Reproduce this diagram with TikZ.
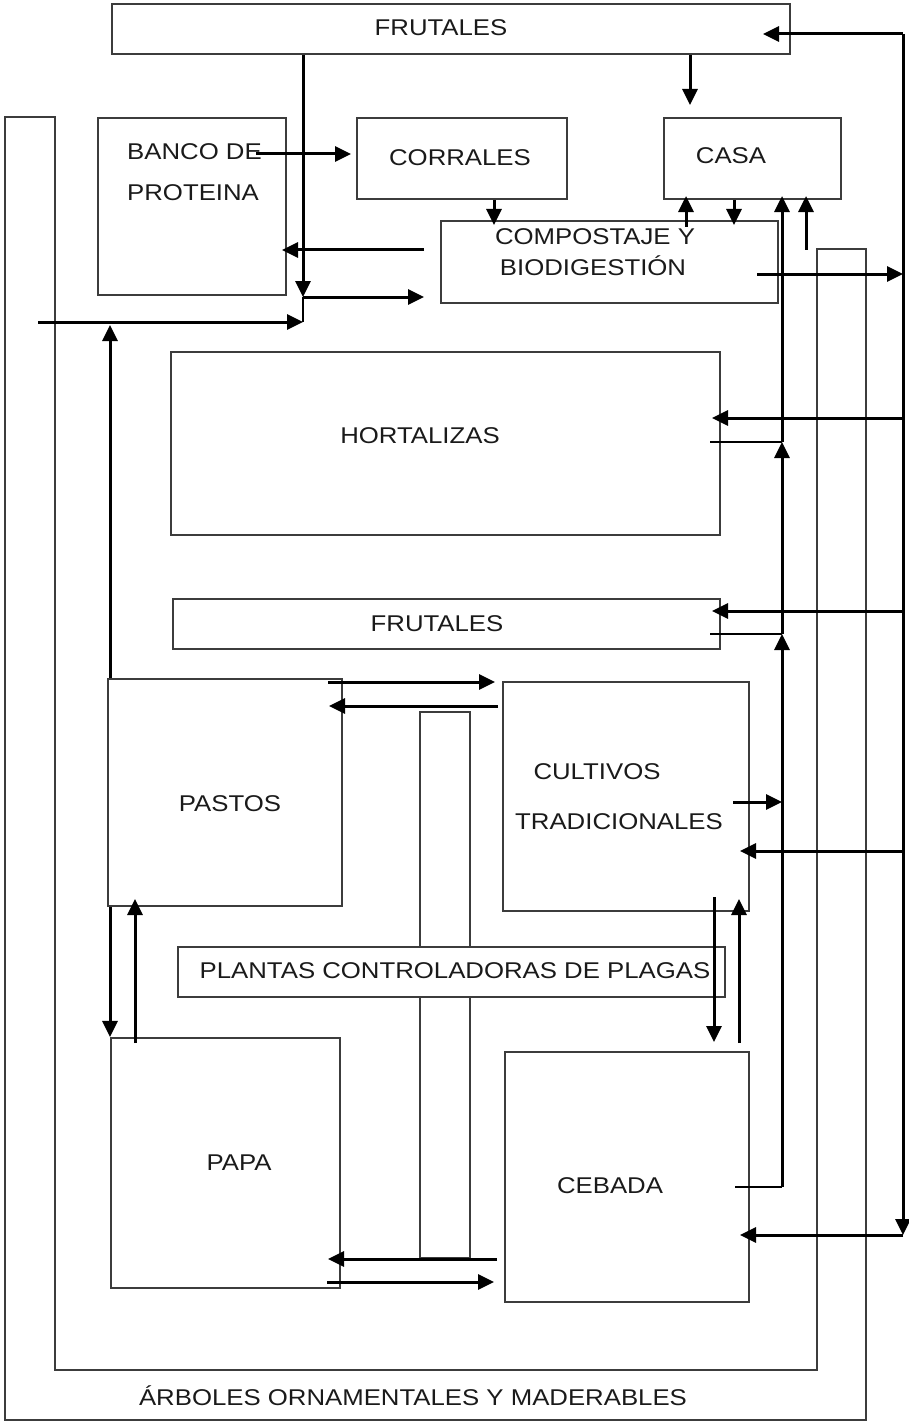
\documentclass[tikz,border=0pt]{standalone}
\usepackage{fontspec}
\setmainfont{Liberation Sans}[FakeStretch=1.13]
\usepackage{xcolor}
\usepackage{tikz}
\usetikzlibrary{arrows.meta,positioning,calc}
\definecolor{ink}{HTML}{000000}
\definecolor{rim}{HTML}{3C3C3C}
\definecolor{txt}{HTML}{1A1A1A}
\tikzset{
  bed/.style   ={draw=rim,line width=2.1pt,inner sep=0pt},
  belt/.style  ={draw=rim,line width=2.1pt},
  lbl/.style   ={text=txt,inner sep=0pt,anchor=base,font=\fontsize{22.8}{26}\selectfont},
  flow/.style  ={-{Triangle[length=16pt,width=15pt]},line width=3pt,draw=ink},
  link/.style  ={line width=2pt,draw=ink},
  feed/.style  ={line width=2.2pt,draw=ink}
}

\begin{document}
\begin{tikzpicture}[x=1pt,y=-1pt]
  \useasboundingbox (0,0) rectangle (909,1423);
  % outer belt of trees
  \draw[belt] (5,117) -- (55,117) -- (55,1370) -- (817,1370) -- (817,249)
              -- (866,249) -- (866,1420) -- (5,1420) -- cycle;
  \node[lbl] (tArboles) at (413,1405) {ÁRBOLES ORNAMENTALES Y MADERABLES};

  % plots
  \node[bed,minimum width=678,minimum height=50]  (frutTop)  at (451,29) {};
  \node[bed,minimum width=188,minimum height=177] (banco)    at (192,206.5) {};
  \node[bed,minimum width=210,minimum height=81]  (corrales) at (462,158.5) {};
  \node[bed,minimum width=177,minimum height=81]  (casa)     at (752.5,158.5) {};
  \node[bed,minimum width=337,minimum height=82]  (compost)  at (609.5,262) {};
  \node[bed,minimum width=549,minimum height=183] (hort)     at (445.5,443.5) {};
  \node[bed,minimum width=547,minimum height=50]  (frutMid)  at (446.5,624) {};
  \node[bed,minimum width=234,minimum height=227] (pastos)   at (225,792.5) {};
  \node[bed,minimum width=246,minimum height=229] (cultivos) at (626,796.5) {};
  \node[bed,minimum width=547,minimum height=50]  (plantas)  at (451.5,972) {};
  \node[bed,minimum width=229,minimum height=250] (papa)     at (225.5,1163) {};
  \node[bed,minimum width=244,minimum height=250] (cebada)   at (627,1177) {};

  % cross of pest plants
  \draw[belt] (420,947) -- (420,712) -- (470,712) -- (470,947);
  \draw[belt] (420,997) -- (420,1258) -- (470,1258) -- (470,997);

  % labels
  \node[lbl] (tFrutTop) at (441,36) {FRUTALES};
  \node[lbl,anchor=base west] (tBanco) at (127,160) {BANCO DE};
  \node[lbl,anchor=base west] (tProt)  at (127,201) {PROTEINA};
  \node[lbl] (tCorrales) at (460,166) {CORRALES};
  \node[lbl] (tCasa)     at (731,164) {CASA};
  \node[lbl] (tComp)     at (595,245) {COMPOSTAJE Y};
  \node[lbl] (tBiod)     at (593,276) {BIODIGESTIÓN};
  \node[lbl] (tHort)     at (420,443) {HORTALIZAS};
  \node[lbl] (tFrutMid)  at (437,631) {FRUTALES};
  \node[lbl] (tPastos)   at (230,811) {PASTOS};
  \node[lbl] (tCult)     at (597,779) {CULTIVOS};
  \node[lbl] (tTrad)     at (619,829) {TRADICIONALES};
  \node[lbl] (tPlantas)  at (455,978) {PLANTAS CONTROLADORAS DE PLAGAS};
  \node[lbl] (tPapa)     at (239,1170) {PAPA};
  \node[lbl] (tCebada)   at (610,1193) {CEBADA};

  % free ends
  \coordinate (jA) at (303,297);
  \coordinate (jB) at (303,322);
  \coordinate (wIn) at (38,322);
  \coordinate (compIn) at (424,297);
  \coordinate (bancoOut) at (256,154);
  \coordinate (corrIn) at (351,154);
  \coordinate (compLeft) at (424,250);
  \coordinate (bancoIn) at (282,250);
  \coordinate (casaIn) at (690,105);
  \coordinate (corrDrop) at (494,225);
  \coordinate (upA) at (686,227);
  \coordinate (dnA) at (734,225);
  \coordinate (upB) at (806,250);
  \coordinate (compOut) at (757,274);
  \coordinate (rTop) at (903,34);
  \coordinate (frutIn) at (763,34);
  \coordinate (rBot) at (903,1235);
  \coordinate (rHort) at (903,418);
  \coordinate (hortIn) at (712,418);
  \coordinate (rFrut) at (903,611);
  \coordinate (frutMidIn) at (712,611);
  \coordinate (rCult) at (903,851);
  \coordinate (cultIn) at (740,851);
  \coordinate (cebIn) at (740,1235);
  \coordinate (hOut) at (710,442);
  \coordinate (fOut) at (710,634);
  \coordinate (cOut) at (733,802);
  \coordinate (bOut) at (735,1187);
  \coordinate (sHort) at (782,442);
  \coordinate (sFrut) at (782,634);
  \coordinate (sCeb) at (782,1187);
  \coordinate (pUp) at (110,325);
  \coordinate (qUp) at (135,1043);
  \coordinate (qTip) at (135,899);
  \coordinate (pcA) at (328,682);
  \coordinate (pcB) at (495,682);
  \coordinate (cpA) at (498,706);
  \coordinate (cpB) at (329,706);
  \coordinate (bpA) at (497,1259);
  \coordinate (bpB) at (328,1259);
  \coordinate (pbA) at (327,1282);
  \coordinate (pbB) at (494,1282);
  \coordinate (cbA) at (714,897);
  \coordinate (cbB) at (714,1042);
  \coordinate (bcA) at (739,1043);
  \coordinate (bcB) at (739,899);

  % upper flows
  \draw[flow] (jA |- frutTop.south) -- (jA);
  \draw[feed] (jA) -- (jB);
  \draw[flow] (jA) -- (compIn);
  \draw[flow] (wIn) -- (jB);
  \draw[flow] (bancoOut) -- (corrIn);
  \draw[flow] (compLeft) -- (bancoIn);
  \draw[flow] (casaIn |- frutTop.south) -- (casaIn);
  \draw[flow] (corrDrop |- corrales.south) -- (corrDrop);
  \draw[flow] (upA) -- ([yshift=4pt]upA |- casa.south);
  \draw[flow] (dnA |- casa.south) -- (dnA);
  \draw[flow] (upB) -- ([yshift=4pt]upB |- casa.south);
  \draw[flow] (compOut) -- (compOut -| rTop);

  % right rail
  \draw[flow] (rTop) -- (rBot);
  \draw[flow] (rTop) -- (frutIn);
  \draw[flow] (rHort) -- (hortIn);
  \draw[flow] (rFrut) -- (frutMidIn);
  \draw[flow] (rCult) -- (cultIn);
  \draw[flow] (rBot) -- (cebIn);

  % collector to casa
  \draw[link] (bOut) -- (sCeb);
  \draw[flow] (sCeb) -- (sFrut);
  \draw[link] (fOut) -- (sFrut);
  \draw[flow] (sFrut) -- (sHort);
  \draw[link] (hOut) -- (sHort);
  \draw[flow] (sHort) -- ([yshift=4pt]sHort |- casa.south);
  \draw[flow] (cOut) -- (cOut -| sHort);

  % lower exchanges
  \draw[flow] (pUp |- pastos.north) -- (pUp);
  \draw[flow] (pUp |- pastos.south) -- (pUp |- papa.north);
  \draw[flow] (qUp) -- (qTip);
  \draw[flow] (pcA) -- (pcB);
  \draw[flow] (cpA) -- (cpB);
  \draw[flow] (bpA) -- (bpB);
  \draw[flow] (pbA) -- (pbB);
  \draw[flow] (cbA) -- (cbB);
  \draw[flow] (bcA) -- (bcB);
\end{tikzpicture}
\end{document}
